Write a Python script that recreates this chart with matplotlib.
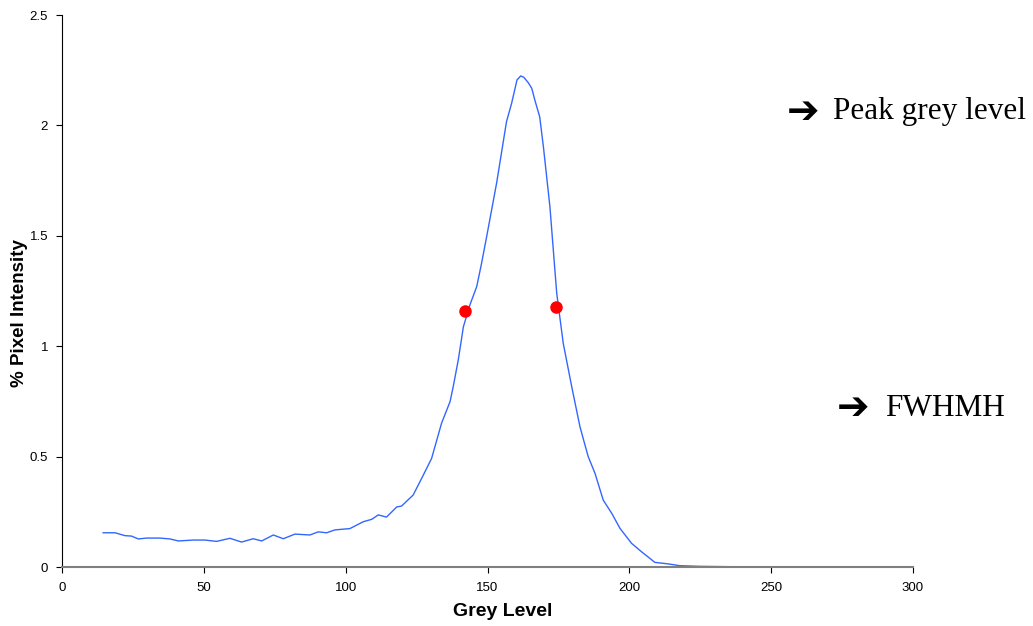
import numpy as np
from matplotlib import pyplot as plt

# grey level histogram
grey = [14.5, 18.7, 22.2, 24.5, 26.9, 29.8, 34.5, 38.1, 41.0, 46.3, 50.4, 54.5,
        59.2, 63.3, 67.4, 70.4, 74.5, 78.0, 82.1, 87.4, 90.3, 93.3, 96.2, 101.5,
        106.2, 109.2, 111.5, 114.4, 118.0, 119.7, 123.8, 127.4, 130.3, 133.8,
        136.8, 137.9, 139.7, 141.5, 143.8, 146.2, 147.9, 149.7, 153.2, 156.7,
        158.5, 160.4, 161.7, 162.8, 164.4, 165.6, 166.7, 168.4, 169.7, 172.0,
        174.4, 176.7, 179.7, 182.6, 184.2, 185.5, 187.9, 190.8, 193.8, 196.7,
        200.8, 204.3, 209.0, 213.7, 217.8, 224.9, 244.3]
intensity = [0.155, 0.155, 0.142, 0.140, 0.127, 0.131, 0.131, 0.127, 0.118, 0.122,
             0.122, 0.116, 0.130, 0.113, 0.128, 0.118, 0.145, 0.128, 0.149, 0.145,
             0.159, 0.155, 0.168, 0.174, 0.205, 0.216, 0.236, 0.226, 0.272, 0.276,
             0.326, 0.417, 0.492, 0.651, 0.749, 0.816, 0.938, 1.088, 1.187, 1.270,
             1.375, 1.496, 1.738, 2.017, 2.100, 2.206, 2.224, 2.218, 2.193, 2.168,
             2.114, 2.039, 1.904, 1.632, 1.240, 1.013, 0.816, 0.635, 0.560, 0.500,
             0.424, 0.303, 0.243, 0.175, 0.107, 0.069, 0.021, 0.014, 0.006, 0.003,
             0.0]

# half maximum points
half_x = [142.1, 174.1]
half_y = [1.159, 1.178]

fig = plt.figure(figsize=(10.33, 6.26), dpi=100)
ax = fig.add_axes([62 / 1033, 59 / 626, 851 / 1033, 552 / 626])

ax.plot(grey, intensity, color='#3366ff', linewidth=1.0, solid_joinstyle='round')
ax.plot(half_x, half_y, 'o', color='red', markersize=8, zorder=3)

ax.set_xlim(0, 300)
ax.set_ylim(0, 2.5)
ax.set_xticks(np.arange(0, 301, 50))
ax.set_yticks(np.arange(0, 2.51, 0.5))
ax.set_yticklabels(['0', '0.5', '1', '1.5', '2', '2.5'])

for s in ['top', 'right']:
    ax.spines[s].set_visible(False)
ax.spines['bottom'].set_color('#808080')
ax.spines['bottom'].set_linewidth(1.5)
ax.spines['left'].set_linewidth(0.8)
ax.tick_params(axis='both', direction='out', length=4, labelsize=9.5,
               labelfontfamily='Liberation Sans')
ax.tick_params(axis='x', pad=7)
ax.tick_params(axis='y', pad=6)

ax.set_xlabel('Grey Level', fontsize=14, fontweight='bold', family='Liberation Sans')
ax.set_ylabel('% Pixel Intensity', fontsize=13.5, fontweight='bold', family='Liberation Sans')
ax.xaxis.set_label_coords(0.518, -0.065)
ax.yaxis.set_label_coords(-0.040, 0.46)

fig.text(803 / 1033, 1 - 112 / 626, '\u2794', fontsize=28, family='DejaVu Sans',
         fontweight='bold', va='center', ha='center')
fig.text(833 / 1033, 1 - 112 / 626, 'Peak grey level', fontsize=22.5,
         family='Liberation Serif', va='center', ha='left')
fig.text(853 / 1033, 1 - 408 / 626, '\u2794', fontsize=28, family='DejaVu Sans',
         fontweight='bold', va='center', ha='center')
fig.text(885 / 1033, 1 - 408 / 626, 'FWHMH', fontsize=22.5,
         family='Liberation Serif', va='center', ha='left')

fig.savefig('out.png', dpi=100)
